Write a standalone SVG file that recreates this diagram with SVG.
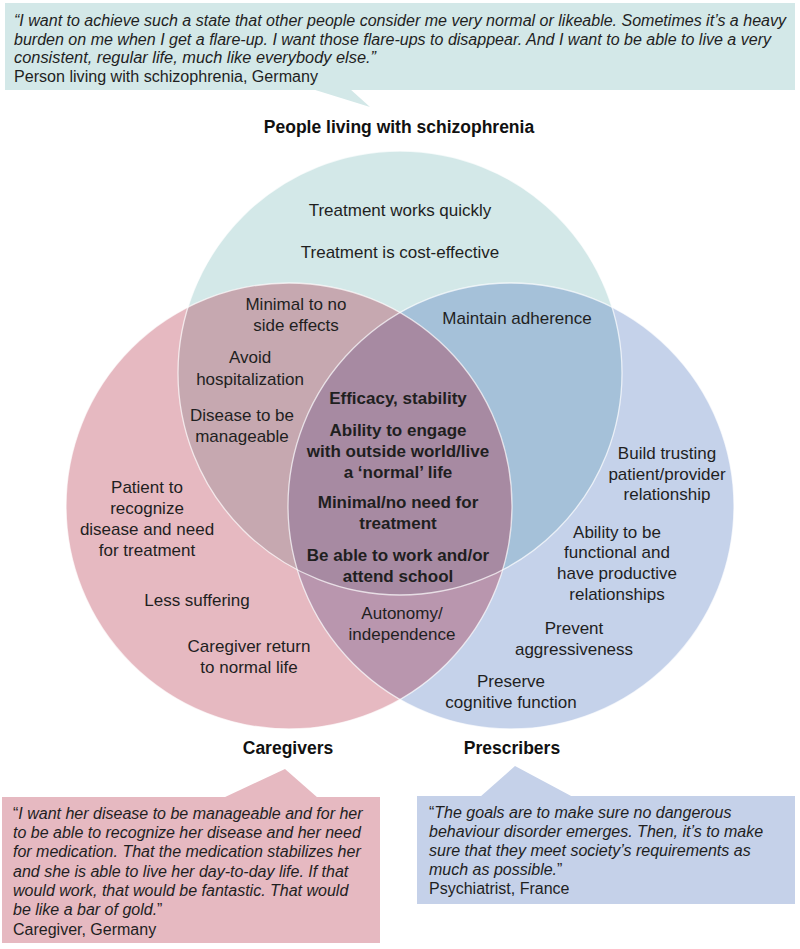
<svg xmlns="http://www.w3.org/2000/svg" width="800" height="949" viewBox="0 0 800 949">
<style>
  .t{font-family:"Liberation Sans",Arial,sans-serif;font-size:17px;fill:#1f1f1f;text-anchor:middle}
  .b{font-weight:bold}
  .h{font-family:"Liberation Sans",Arial,sans-serif;font-size:17.5px;font-weight:bold;fill:#111;text-anchor:middle}
  .q{font-family:"Liberation Sans",Arial,sans-serif;font-size:16px;fill:#1f1f1f}
  .qt{font-family:"Liberation Sans Narrow","Liberation Sans",Arial,sans-serif;font-size:16px;fill:#1f1f1f}
  .i{font-style:italic}
  .edge{fill:none;stroke:#ffffff;stroke-opacity:0.7;stroke-width:1.3}
</style>
<defs>
  <clipPath id="cT"><circle cx="400" cy="373" r="222"/></clipPath>
  <clipPath id="cL"><circle cx="289" cy="506" r="223"/></clipPath>
  <clipPath id="cR"><circle cx="511" cy="506" r="223"/></clipPath>
</defs>
<rect width="800" height="949" fill="#ffffff"/>

<g id="quote-patient">
  <rect x="5" y="3" width="790" height="87" fill="#d3e8e8"/>
  <polygon points="312,89 370,107 350,89" fill="#d3e8e8"/>
  <text class="qt i" x="14" y="26" textLength="772" lengthAdjust="spacingAndGlyphs">“I want to achieve such a state that other people consider me very normal or likeable. Sometimes it’s a heavy</text>
  <text class="qt i" x="14" y="44.5" textLength="757" lengthAdjust="spacingAndGlyphs">burden on me when I get a flare-up. I want those flare-ups to disappear. And I want to be able to live a very</text>
  <text class="qt i" x="14" y="63" textLength="362" lengthAdjust="spacingAndGlyphs">consistent, regular life, much like everybody else.”</text>
  <text class="qt" x="14" y="82" textLength="304" lengthAdjust="spacingAndGlyphs">Person living with schizophrenia, Germany</text>
</g>

<g id="venn">
  <circle id="circle-patients" cx="400" cy="373" r="222" fill="#d3e8e8"/>
  <circle id="circle-caregivers" cx="289" cy="506" r="223" fill="#e6b9c1"/>
  <circle id="circle-prescribers" cx="511" cy="506" r="223" fill="#c5d2ea"/>
  <circle cx="289" cy="506" r="223" fill="#c6a8b0" clip-path="url(#cT)"/>
  <circle cx="511" cy="506" r="223" fill="#a5c1d9" clip-path="url(#cT)"/>
  <circle cx="511" cy="506" r="223" fill="#b996ae" clip-path="url(#cL)"/>
  <g clip-path="url(#cT)">
    <circle cx="511" cy="506" r="223" fill="#a78aa2" clip-path="url(#cL)"/>
  </g>
  <circle class="edge" cx="400" cy="373" r="222"/>
  <circle class="edge" cx="289" cy="506" r="223"/>
  <circle class="edge" cx="511" cy="506" r="223"/>
</g>

<g id="label-patients"><text class="h" x="399" y="133">People living with schizophrenia</text></g>
<g id="label-caregivers"><text class="h" x="288" y="754">Caregivers</text></g>
<g id="label-prescribers"><text class="h" x="512" y="754">Prescribers</text></g>

<g id="patients-only">
  <text class="t" x="400" y="216">Treatment works quickly</text>
  <text class="t" x="400" y="258">Treatment is cost-effective</text>
</g>

<g id="patients-caregivers">
  <text class="t" x="296" y="310">Minimal to no</text>
  <text class="t" x="296" y="331">side effects</text>
  <text class="t" x="250" y="363">Avoid</text>
  <text class="t" x="250" y="385">hospitalization</text>
  <text class="t" x="242" y="421">Disease to be</text>
  <text class="t" x="242" y="442">manageable</text>
</g>

<g id="patients-prescribers">
  <text class="t" x="517" y="324">Maintain adherence</text>
</g>

<g id="all-three">
  <text class="t b" x="398" y="404">Efficacy, stability</text>
  <text class="t b" x="398" y="436">Ability to engage</text>
  <text class="t b" x="398" y="457">with outside world/live</text>
  <text class="t b" x="398" y="478">a ‘normal’ life</text>
  <text class="t b" x="398" y="508">Minimal/no need for</text>
  <text class="t b" x="398" y="529">treatment</text>
  <text class="t b" x="398" y="561">Be able to work and/or</text>
  <text class="t b" x="398" y="582">attend school</text>
</g>

<g id="caregivers-only">
  <text class="t" x="147" y="493">Patient to</text>
  <text class="t" x="147" y="514">recognize</text>
  <text class="t" x="147" y="535">disease and need</text>
  <text class="t" x="147" y="556">for treatment</text>
  <text class="t" x="197" y="606">Less suffering</text>
  <text class="t" x="249" y="652">Caregiver return</text>
  <text class="t" x="249" y="673">to normal life</text>
</g>

<g id="caregivers-prescribers">
  <text class="t" x="402" y="619">Autonomy/</text>
  <text class="t" x="402" y="640">independence</text>
</g>

<g id="prescribers-only">
  <text class="t" x="667" y="459">Build trusting</text>
  <text class="t" x="667" y="480">patient/provider</text>
  <text class="t" x="667" y="500">relationship</text>
  <text class="t" x="617" y="538">Ability to be</text>
  <text class="t" x="617" y="558">functional and</text>
  <text class="t" x="617" y="579">have productive</text>
  <text class="t" x="617" y="600">relationships</text>
  <text class="t" x="574" y="634">Prevent</text>
  <text class="t" x="574" y="655">aggressiveness</text>
  <text class="t" x="511" y="687">Preserve</text>
  <text class="t" x="511" y="708">cognitive function</text>
</g>

<g id="quote-caregiver">
  <polygon points="223,798 285,769 318,798" fill="#e6b9c1"/>
  <rect x="2" y="797" width="378" height="146" fill="#e6b9c1"/>
  <text class="q" x="13" y="818.5">“<tspan class="i">I want her disease to be manageable and for her</tspan></text>
  <text class="q i" x="13" y="838">to be able to recognize her disease and her need</text>
  <text class="q i" x="13" y="857">for medication. That the medication stabilizes her</text>
  <text class="q i" x="13" y="876.5">and she is able to live her day-to-day life. If that</text>
  <text class="q i" x="13" y="895.5">would work, that would be fantastic. That would</text>
  <text class="q" x="13" y="915"><tspan class="i">be like a bar of gold.</tspan>”</text>
  <text class="q" x="13" y="934.5">Caregiver, Germany</text>
</g>

<g id="quote-prescriber">
  <polygon points="480,797 515,766 573,797" fill="#c5d1e9"/>
  <rect x="417" y="796" width="378" height="108" fill="#c5d1e9"/>
  <text class="q" x="429" y="817.5">“<tspan class="i">The goals are to make sure no dangerous</tspan></text>
  <text class="q i" x="429" y="836.5">behaviour disorder emerges. Then, it’s to make</text>
  <text class="q i" x="429" y="855.5">sure that they meet society’s requirements as</text>
  <text class="q" x="429" y="874.5"><tspan class="i">much as possible.</tspan>”</text>
  <text class="q" x="429" y="893.5">Psychiatrist, France</text>
</g>
</svg>
